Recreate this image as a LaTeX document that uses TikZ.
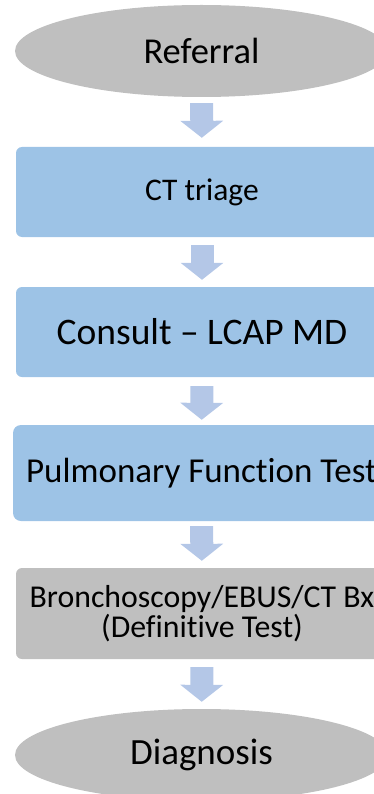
\documentclass[tikz,border=0pt]{standalone}
\usepackage{fontspec}
\setmainfont{Carlito}[Ligatures=NoCommon]
\usetikzlibrary{shapes.geometric,arrows.meta}
\definecolor{stepblue}{RGB}{157,195,230}
\definecolor{stepgray}{RGB}{191,191,191}
\definecolor{flowblue}{RGB}{180,199,231}
\begin{document}
\begin{tikzpicture}[x=1pt,y=-1pt,
  terminal/.style={ellipse,fill=stepgray,draw=none,minimum width=373pt,minimum height=92pt,inner sep=0pt},
  stepbox/.style={rectangle,rounded corners=6pt,fill=stepblue,draw=none,minimum width=372pt,minimum height=90pt,inner sep=0pt,align=center},
  testbox/.style={stepbox,fill=stepgray},
  flow/.style={draw=flowblue,line width=23pt,-{Triangle[width=42pt,length=17pt]}},
]
\useasboundingbox (0,0) rectangle (374,794);
\clip (0,0) rectangle (374,794);

% process steps, top to bottom
\node[terminal] (ref) at (201.5,51) {\fontsize{36.5}{44}\selectfont Referral};
\node[stepbox] (ct) at (202,192) {\fontsize{31.5}{38}\selectfont CT triage};
\node[stepbox] (consult) at (202,332) {\fontsize{37.5}{45}\selectfont Consult – LCAP MD};
\node[stepbox,minimum width=377pt,minimum height=96pt,rounded corners=8pt] (pft) at (201.5,473) {\fontsize{35}{42}\selectfont Pulmonary Function Test};
\node[testbox,minimum height=91pt] (bx) at (202,613.5) {\fontsize{31.8}{38}\selectfont Bronchoscopy/EBUS/CT Bx\\\fontsize{31.8}{38}\selectfont (Definitive Test)};
\node[terminal] (diag) at (201.5,755) {\fontsize{37}{44}\selectfont Diagnosis};

% block arrows between consecutive steps
\draw[flow,shorten <=6pt,shorten >=9pt] (ref) -- (ct);
\draw[flow,shorten <=8pt,shorten >=7pt] (ct) -- (consult);
\draw[flow,shorten <=9pt,shorten >=5pt] (consult) -- (pft);
\draw[flow,shorten <=5pt,shorten >=7pt] (pft) -- (bx);
\draw[flow,shorten <=8pt,shorten >=7pt] (bx) -- (diag);
\end{tikzpicture}
\end{document}
